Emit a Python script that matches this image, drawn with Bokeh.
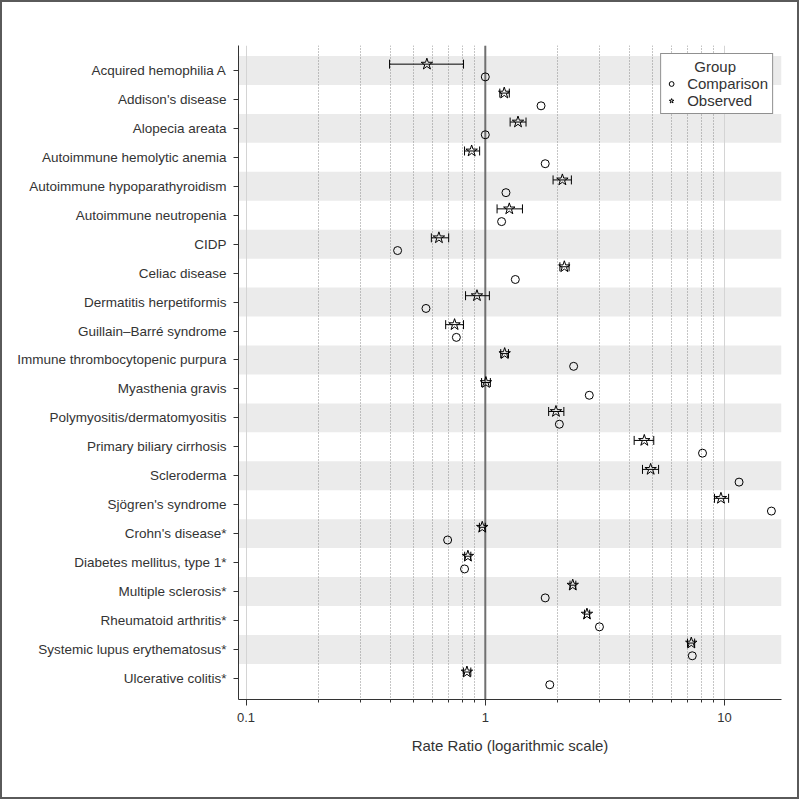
from bokeh.plotting import figure
from bokeh.models import (Range1d, FixedTicker, ColumnDataSource, Whisker, TeeHead,
                          Span, BoxAnnotation, Legend, LegendItem, BasicTickFormatter)
from bokeh.embed import file_html
from bokeh.resources import INLINE

categories = [
    "Acquired hemophilia A", "Addison's disease", "Alopecia areata",
    "Autoimmune hemolytic anemia", "Autoimmune hypoparathyroidism",
    "Autoimmune neutropenia", "CIDP", "Celiac disease", "Dermatitis herpetiformis",
    "Guillain\u2013Barr\u00e9 syndrome", "Immune thrombocytopenic purpura",
    "Myasthenia gravis", "Polymyositis/dermatomyositis", "Primary biliary cirrhosis",
    "Scleroderma", "Sj\u00f6gren's syndrome", "Crohn's disease*",
    "Diabetes mellitus, type 1*", "Multiple sclerosis*", "Rheumatoid arthritis*",
    "Systemic lupus erythematosus*", "Ulcerative colitis*",
]
observed = [0.57, 1.20, 1.37, 0.877, 2.10, 1.26, 0.64, 2.14, 0.923, 0.744, 1.205,
            1.006, 1.974, 4.62, 4.91, 9.66, 0.971, 0.846, 2.32, 2.66, 7.26, 0.838]
obs_lower = [0.398, 1.15, 1.27, 0.819, 1.92, 1.12, 0.595, 2.05, 0.827, 0.683, 1.16,
             0.965, 1.84, 4.19, 4.54, 9.08, 0.945, 0.82, 2.26, 2.60, 7.00, 0.81]
obs_upper = [0.811, 1.26, 1.48, 0.947, 2.29, 1.43, 0.703, 2.24, 1.04, 0.811, 1.25,
             1.05, 2.13, 5.06, 5.30, 10.4, 1.00, 0.87, 2.39, 2.73, 7.50, 0.87]
comparison = [1.0, 1.71, 1.0, 1.78, 1.22, 1.17, 0.43, 1.335, 0.565, 0.757, 2.34,
              2.72, 2.04, 8.09, 11.5, 15.7, 0.696, 0.819, 1.78, 3.00, 7.33, 1.86]
x_major_ticks = [0.1, 1, 10]
x_minor_ticks = [0.2, 0.3, 0.4, 0.5, 0.6, 0.7, 0.8, 0.9, 2, 3, 4, 5, 6, 7, 8, 9]
x_tick_labels = {0.1: "0.1", 1: "1", 10: "10"}
x_title = "Rate Ratio (logarithmic scale)"
legend_title = "Group"
series_names = ["Comparison", "Observed"]

FONT = "Liberation Sans"
TXT = "#333333"
n = len(categories)
rows = list(range(n))
offset = 0.22

src = ColumnDataSource(dict(
    y_obs=[r - offset for r in rows],
    y_comp=[r + offset for r in rows],
    obs=observed, lo=obs_lower, hi=obs_upper, comp=comparison,
))

p = figure(width=799, height=799, x_axis_type="log",
           x_range=Range1d(0.093, 17.3), y_range=Range1d(n - 0.27, -0.864),
           output_backend="svg", toolbar_location=None,
           min_border_left=236, min_border_right=20, min_border_top=43,
           min_border_bottom=102)
p.styles = {"border": "2px solid #5a5a5a", "box-sizing": "border-box"}
p.outline_line_color = None
p.background_fill_color = "white"
p.border_fill_color = "white"

# alternating bands
for r in rows[::2]:
    p.add_layout(BoxAnnotation(top=r - 0.5, bottom=r + 0.5, fill_color="#ebebeb",
                               fill_alpha=1.0, line_color=None, level="image"))

# axes
xa = p.xaxis[0]
xa.ticker = FixedTicker(ticks=x_major_ticks, minor_ticks=x_minor_ticks)
xa.formatter = BasicTickFormatter()
xa.major_label_overrides = x_tick_labels
xa.axis_label = x_title
xa.axis_label_text_font = FONT
xa.axis_label_text_font_style = "normal"
xa.axis_label_text_font_size = "15px"
xa.axis_label_text_color = TXT
xa.axis_label_standoff = 12
xa.major_label_text_font = FONT
xa.major_label_text_font_size = "13px"
xa.major_label_text_color = TXT
xa.major_label_standoff = 7
xa.axis_line_color = "#333333"
xa.major_tick_line_color = "#333333"
xa.minor_tick_line_color = "#333333"
xa.major_tick_out = 6
xa.major_tick_in = 0
xa.minor_tick_out = 3
xa.minor_tick_in = 0

ya = p.yaxis[0]
ya.ticker = FixedTicker(ticks=rows)
ya.major_label_overrides = {r: c for r, c in zip(rows, categories)}
ya.major_label_text_font = FONT
ya.major_label_text_font_size = "13.5px"
ya.major_label_text_color = TXT
ya.major_label_standoff = 7
ya.axis_line_color = "#333333"
ya.major_tick_line_color = "#333333"
ya.major_tick_out = 5
ya.major_tick_in = 0
ya.minor_tick_line_color = None

p.ygrid.grid_line_color = None
p.xgrid.grid_line_color = "#d4d4d4"
p.xgrid.grid_line_width = 1
p.xgrid.minor_grid_line_color = "#8a8a8a"
p.xgrid.minor_grid_line_dash = "1 2"
p.xgrid.minor_grid_line_width = 1

p.add_layout(Span(location=1, dimension="height", line_color="#707070",
                  line_width=2, level="underlay"))

p.add_layout(Whisker(source=src, base="y_obs", lower="lo", upper="hi",
                     dimension="width", line_color="black", line_width=1,
                     upper_head=TeeHead(size=9, line_color="black", line_width=1),
                     lower_head=TeeHead(size=9, line_color="black", line_width=1)))

r_obs = p.scatter(x="obs", y="y_obs", source=src, marker="star", size=12,
                  fill_color=None, line_color="black", line_width=1)
r_comp = p.scatter(x="comp", y="y_comp", source=src, marker="circle", size=8,
                   fill_color=None, line_color="black", line_width=1)

# title padded with no-break spaces so it sits centred over the entries
legend = Legend(items=[LegendItem(label=series_names[0], renderers=[r_comp]),
                       LegendItem(label=series_names[1], renderers=[r_obs])],
                location="top_right", title="\u00a0" * 7 + legend_title)
legend.margin = 8
legend.padding = 4
legend.spacing = 0
legend.glyph_width = 12
legend.glyph_height = 17
legend.label_height = 17
legend.label_standoff = 10
legend.label_text_font = FONT
legend.label_text_font_size = "15px"
legend.label_text_color = TXT
legend.title_text_font = FONT
legend.title_text_font_size = "15px"
legend.title_text_font_style = "normal"
legend.title_text_color = TXT
legend.title_standoff = 0
legend.border_line_color = "#222222"
legend.border_line_width = 1
legend.background_fill_color = "white"
legend.background_fill_alpha = 1.0
p.add_layout(legend)

open("out.html", "w").write(file_html(p, INLINE))
